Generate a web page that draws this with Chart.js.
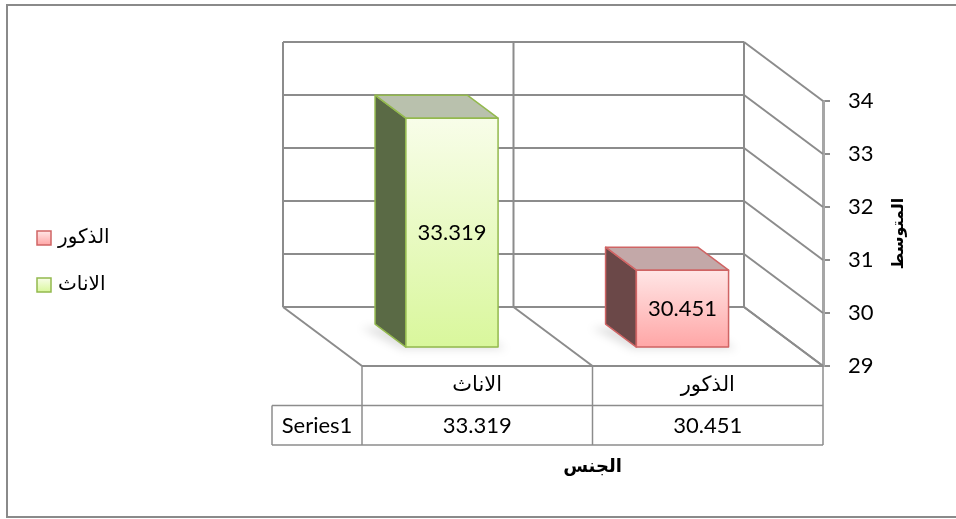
<!DOCTYPE html>
<html>
<head>
<meta charset="utf-8">
<script src="https://cdn.jsdelivr.net/npm/chart.js@4.4.1/dist/chart.umd.min.js"></script>
<style>
  html, body { margin: 0; padding: 0; background: #fff; }
  #wrap { width: 956px; height: 519px; position: relative; }
</style>
</head>
<body>
<div id="wrap"><canvas id="chart" width="956" height="519"></canvas></div>
<script>
// chart data
const categories = ["الاناث", "الذكور"];
const values = [33.319, 30.451];
const seriesName = "Series1";
const yTicks = [29, 30, 31, 32, 33, 34];
const yTitle = "المتوسط";
const xTitle = "الجنس";
const legendOrder = [1, 0]; // الذكور first, then الاناث

// colours per point (Excel "vary colours by point")
const faceTop = ["#f8fde9", "#ffe6e6"];
const faceBottom = ["#d9f79c", "#ffa6a6"];
const edgeColors = ["#93b94e", "#cf6464"];
const sideColors = ["#5a6a45", "#6b4848"];
const topColors = ["#b9c1ad", "#c3a8a8"];

const GRID = "#8c8c8c";
const DEPTH_X = 79, DEPTH_Y = 59;   // oblique offset from front to back wall
const BAR_FRONT = 0.32, BAR_BACK = 0.71;
const AR_FONT = '"DejaVu Sans", "Noto Sans", sans-serif';
const NUM_FONT = 'Lato, "Open Sans", sans-serif';

function line(ctx, x1, y1, x2, y2) {
    ctx.beginPath();
    ctx.moveTo(x1, y1);
    ctx.lineTo(x2, y2);
    ctx.stroke();
}

const frame3d = {
    id: "frame3d",
    beforeDatasetsDraw(chart) {
        const ctx = chart.ctx;
        const x = chart.scales.x, y = chart.scales.y;
        const left = chart.chartArea.left, right = chart.chartArea.right;
        const bottom = y.getPixelForValue(y.min);
        ctx.save();
        // outer border
        ctx.strokeStyle = "#8a8a8a";
        ctx.lineWidth = 2;
        ctx.strokeRect(7, 5, 960, 512);

        ctx.strokeStyle = GRID;
        ctx.lineWidth = 2;
        // back wall horizontal lines + right wall diagonals
        yTicks.forEach(v => {
            const py = y.getPixelForValue(v);
            line(ctx, left - DEPTH_X, py - DEPTH_Y, right - DEPTH_X, py - DEPTH_Y);
            line(ctx, right - DEPTH_X, py - DEPTH_Y, right, py);
        });
        // back wall verticals and floor diagonals at category boundaries
        const half = (x.getPixelForValue(1) - x.getPixelForValue(0)) / 2;
        const edges = [left];
        categories.forEach((c, i) => edges.push(x.getPixelForValue(i) + half));
        const topBack = y.getPixelForValue(y.max) - DEPTH_Y;
        edges.forEach(px => {
            line(ctx, px - DEPTH_X, topBack, px - DEPTH_X, bottom - DEPTH_Y);
            line(ctx, px - DEPTH_X, bottom - DEPTH_Y, px, bottom);
        });
        // floor front edge
        line(ctx, left, bottom, right, bottom);
        ctx.restore();
    },
    afterDatasetsDraw(chart) {
        const ctx = chart.ctx;
        const y = chart.scales.y;
        const meta = chart.getDatasetMeta(0);
        const fdx = BAR_FRONT * DEPTH_X, fdy = BAR_FRONT * DEPTH_Y;
        const ddx = (BAR_BACK - BAR_FRONT) * DEPTH_X, ddy = (BAR_BACK - BAR_FRONT) * DEPTH_Y;
        meta.data.forEach((bar, i) => {
            const p = bar.getProps(["x", "y", "width"], true);
            const x0 = p.x - p.width / 2 - fdx, x1 = p.x + p.width / 2 - fdx;
            const yT = p.y - fdy, yB = y.getPixelForValue(y.min) - fdy;
            ctx.save();
            // floor shadow
            ctx.fillStyle = "rgba(0,0,0,0.12)";
            ctx.filter = "blur(4px)";
            ctx.beginPath();
            ctx.moveTo(x0 - 4, yB + 2);
            ctx.lineTo(x1 + 8, yB + 2);
            ctx.lineTo(x1 - ddx, yB - ddy);
            ctx.lineTo(x0 - ddx - 14, yB - ddy + 4);
            ctx.closePath();
            ctx.fill();
            ctx.filter = "none";

            ctx.lineWidth = 1.5;
            ctx.strokeStyle = edgeColors[i];
            ctx.lineJoin = "round";
            // left side face
            ctx.fillStyle = sideColors[i];
            ctx.beginPath();
            ctx.moveTo(x0, yT);
            ctx.lineTo(x0, yB);
            ctx.lineTo(x0 - ddx, yB - ddy);
            ctx.lineTo(x0 - ddx, yT - ddy);
            ctx.closePath();
            ctx.fill();
            ctx.stroke();
            // top face
            ctx.fillStyle = topColors[i];
            ctx.beginPath();
            ctx.moveTo(x0, yT);
            ctx.lineTo(x1, yT);
            ctx.lineTo(x1 - ddx, yT - ddy);
            ctx.lineTo(x0 - ddx, yT - ddy);
            ctx.closePath();
            ctx.fill();
            ctx.stroke();
            // front face
            const g = ctx.createLinearGradient(0, yT, 0, yB);
            g.addColorStop(0, faceTop[i]);
            g.addColorStop(1, faceBottom[i]);
            ctx.fillStyle = g;
            ctx.fillRect(x0, yT, x1 - x0, yB - yT);
            ctx.strokeRect(x0, yT, x1 - x0, yB - yT);
            // value label
            ctx.fillStyle = "#000";
            ctx.font = "22px " + NUM_FONT;
            ctx.textAlign = "center";
            ctx.textBaseline = "middle";
            ctx.fillText(values[i].toFixed(3), (x0 + x1) / 2, (yT + yB) / 2);
            ctx.restore();
        });
    },
    afterDraw(chart) {
        const ctx = chart.ctx;
        const x = chart.scales.x, y = chart.scales.y;
        const left = chart.chartArea.left, right = chart.chartArea.right;
        const top = y.getPixelForValue(y.min);
        const rowH = 39.5, labelLeft = 272;
        ctx.save();
        // data table
        ctx.strokeStyle = GRID;
        ctx.lineWidth = 1.5;
        const half = (x.getPixelForValue(1) - x.getPixelForValue(0)) / 2;
        [left].concat(categories.map((c, i) => x.getPixelForValue(i) + half)).forEach(px => {
            line(ctx, px, top, px, top + 2 * rowH);
        });
        line(ctx, labelLeft, top + rowH, right, top + rowH);
        line(ctx, labelLeft, top + 2 * rowH, right, top + 2 * rowH);
        line(ctx, labelLeft, top + rowH, labelLeft, top + 2 * rowH);

        ctx.fillStyle = "#000";
        ctx.textAlign = "center";
        ctx.textBaseline = "middle";
        categories.forEach((c, i) => {
            ctx.font = "21px " + AR_FONT;
            ctx.fillText(c, x.getPixelForValue(i), top + rowH / 2);
            ctx.font = "22px " + NUM_FONT;
            ctx.fillText(values[i].toFixed(3), x.getPixelForValue(i), top + rowH * 1.5 + 1);
        });
        ctx.font = "22px " + NUM_FONT;
        ctx.fillText(seriesName, (labelLeft + left) / 2, top + rowH * 1.5 + 1);

        // x axis title
        ctx.font = "bold 18px " + AR_FONT;
        ctx.fillText(xTitle, (left + right) / 2, 467);

        // y axis title, rotated
        ctx.save();
        ctx.translate(899, (y.top + y.bottom) / 2);
        ctx.rotate(-Math.PI / 2);
        ctx.font = "bold 16px " + AR_FONT;
        ctx.fillText(yTitle, 0, 0);
        ctx.restore();

        // legend
        legendOrder.forEach((idx, k) => {
            const ly = 238 + k * 47;
            const g = ctx.createLinearGradient(0, ly - 7, 0, ly + 7);
            g.addColorStop(0, faceTop[idx]);
            g.addColorStop(1, faceBottom[idx]);
            ctx.fillStyle = g;
            ctx.fillRect(37, ly - 7, 14, 14);
            ctx.strokeStyle = edgeColors[idx];
            ctx.lineWidth = 1.5;
            ctx.strokeRect(37, ly - 7, 14, 14);
            ctx.fillStyle = "#000";
            ctx.font = "20px " + AR_FONT;
            ctx.textAlign = "left";
            ctx.fillText(categories[idx], 58, ly);
        });
        ctx.restore();
    }
};

new Chart(document.getElementById("chart"), {
    type: "bar",
    data: {
        labels: categories,
        datasets: [{
            label: seriesName,
            data: values,
            base: 29,
            backgroundColor: "rgba(0,0,0,0)",
            borderWidth: 0,
            categoryPercentage: 1,
            barPercentage: 0.4
        }]
    },
    options: {
        responsive: false,
        animation: false,
        layout: { padding: { left: 362, top: 101, right: 0, bottom: 153 } },
        plugins: { legend: { display: false }, tooltip: { enabled: false } },
        scales: {
            x: { display: false },
            y: {
                position: "right",
                min: 29,
                max: 34,
                afterFit: s => { s.width = 133; },
                afterBuildTicks: s => { s.ticks = yTicks.map(v => ({ value: v })); },
                grid: { drawOnChartArea: false, color: GRID, tickLength: 7, lineWidth: 2 },
                border: { display: true, color: "#a6a6a6", width: 3 },
                ticks: { color: "#000", padding: 18, font: { size: 22, family: NUM_FONT } }
            }
        }
    },
    plugins: [frame3d]
});
</script>
</body>
</html>
